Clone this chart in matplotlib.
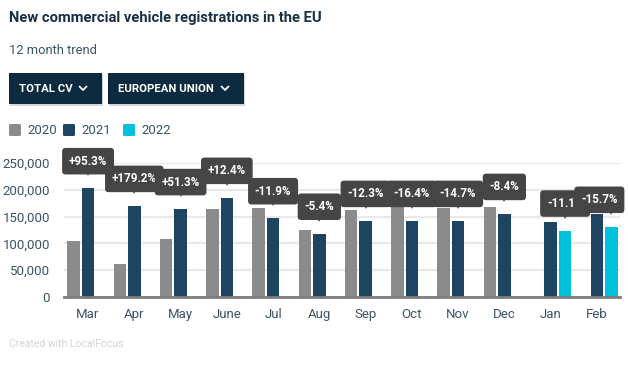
import matplotlib
matplotlib.use("Agg")
import matplotlib.pyplot as plt
import matplotlib.patches as mpatches
import matplotlib.transforms as mtransforms
from matplotlib.lines import Line2D
import numpy as np

plt.rcParams['font.family'] = ['Roboto', 'DejaVu Sans']

# data
months = ["Mar", "Apr", "May", "June", "Jul", "Aug", "Sep", "Oct", "Nov", "Dec", "Jan", "Feb"]
years = ["2020", "2021", "2022"]
vals_2020 = [104000, 61000, 108000, 164000, 166000, 125000, 162000, 170000, 166000, 168000, None, None]
vals_2021 = [203000, 170000, 164000, 185000, 147000, 118000, 142000, 142000, 142000, 155000, 140000, 155000]
vals_2022 = [None] * 10 + [124000, 131000]
changes = ["+95.3%", "+179.2%", "+51.3%", "+12.4%", "-11.9%", "-5.4%",
           "-12.3%", "-16.4%", "-14.7%", "-8.4%", "-11.1%", "-15.7%"]
yticks = [0, 50000, 100000, 150000, 200000, 250000]

colors = ["#898b8d", "#1d4562", "#00c2dc"]
NAVY = "#0d2b40"
TXT = "#3b5366"
W, H = 628, 373

fig = plt.figure(figsize=(W / 100, H / 100), dpi=100)
fig.patch.set_facecolor("white")


def fx(x):
    return x / W


def fy(y):
    return 1 - y / H


ax = fig.add_axes([fx(64), 76 / H, 556 / W, 134 / H])

x = np.arange(len(months))
offsets = [-0.313, 0.0, 0.313]
bw = 0.27
series = [vals_2020, vals_2021, vals_2022]
for k, vals in enumerate(series):
    xs = [x[i] + offsets[k] for i, v in enumerate(vals) if v is not None]
    hs = [v for v in vals if v is not None]
    ax.bar(xs, hs, width=bw, color=colors[k], zorder=2)

ax.set_xlim(-0.52, 11.5)
ax.set_ylim(0, 250000)
ax.set_yticks(yticks)
ax.set_yticklabels([f"{t:,}" for t in yticks])
ax.set_xticks(x)
ax.set_xticklabels(months)
ax.yaxis.grid(True, color="#e9e9e9", lw=1.6)
ax.set_axisbelow(True)
for s in ["left", "right", "top"]:
    ax.spines[s].set_visible(False)
ax.spines["bottom"].set_color("#7d7d7d")
ax.spines["bottom"].set_linewidth(2)
ax.tick_params(axis="y", length=0, pad=10, labelsize=9.5, labelcolor=TXT)
ax.tick_params(axis="x", length=0, pad=8, labelsize=9.5, labelcolor=TXT)

# change labels above the latest year's bar
for i in range(len(months)):
    if vals_2022[i] is not None:
        bx, by = x[i] + offsets[2], vals_2022[i]
    else:
        bx, by = x[i] + offsets[1], vals_2021[i]
    dx = -12 if i == len(months) - 1 else 0
    tri = mtransforms.offset_copy(ax.transData, fig=fig, x=0, y=17, units="dots")
    ax.plot([bx], [by], marker="v", ms=7, color="#454545", mew=0,
            transform=tri, clip_on=False, zorder=10 + 2 * i)
    ax.annotate(changes[i], xy=(bx, by), xytext=(dx, 27), textcoords="offset pixels",
                ha="center", va="center", color="white", fontsize=8.4, fontweight="bold",
                bbox=dict(boxstyle="round,pad=0.58,rounding_size=0.3", fc="#454545", ec="none"),
                annotation_clip=False, zorder=11 + 2 * i)

# title & subtitle
fig.text(fx(9), fy(18), "New commercial vehicle registrations in the EU",
         fontsize=10.6, fontweight="bold", color="#173046", va="center")
fig.text(fx(9), fy(51), "12 month trend", fontsize=9.3, color=TXT, va="center")

# dropdown buttons
buttons = [("TOTAL CV", 9, 102), ("EUROPEAN UNION", 108, 244)]
for label, x0, x1 in buttons:
    fig.patches.append(mpatches.Rectangle((fx(x0 + 1), fy(106)), (x1 - x0) / W, 31 / H,
                                          transform=fig.transFigure, fc="#d6d6d6", ec="none"))
    fig.patches.append(mpatches.Rectangle((fx(x0), fy(104)), (x1 - x0) / W, 31 / H,
                                          transform=fig.transFigure, fc=NAVY, ec="none"))
    fig.text(fx(x0 + 10), fy(88.5), label, fontsize=8.2, fontweight="bold",
             color="white", va="center")
    cx = x1 - 19
    fig.add_artist(Line2D([fx(cx - 3.5), fx(cx), fx(cx + 3.5)], [fy(86.5), fy(90), fy(86.5)],
                          transform=fig.transFigure, color="white", lw=1.3,
                          solid_capstyle="round", solid_joinstyle="round"))

# legend
leg_x = [9, 63, 123]
for k, yr in enumerate(years):
    fig.patches.append(mpatches.FancyBboxPatch((fx(leg_x[k]), fy(136)), 12 / W, 12 / H,
                                               boxstyle="round,pad=0,rounding_size=0.003",
                                               transform=fig.transFigure, fc=colors[k], ec="none"))
    fig.text(fx(leg_x[k] + 18), fy(130), yr, fontsize=9.5, color=TXT, va="center")

fig.text(fx(9), fy(344), "Created with LocalFocus", fontsize=7.5, color="#d4d4d4", va="center")

fig.savefig("out.png", dpi=100)
